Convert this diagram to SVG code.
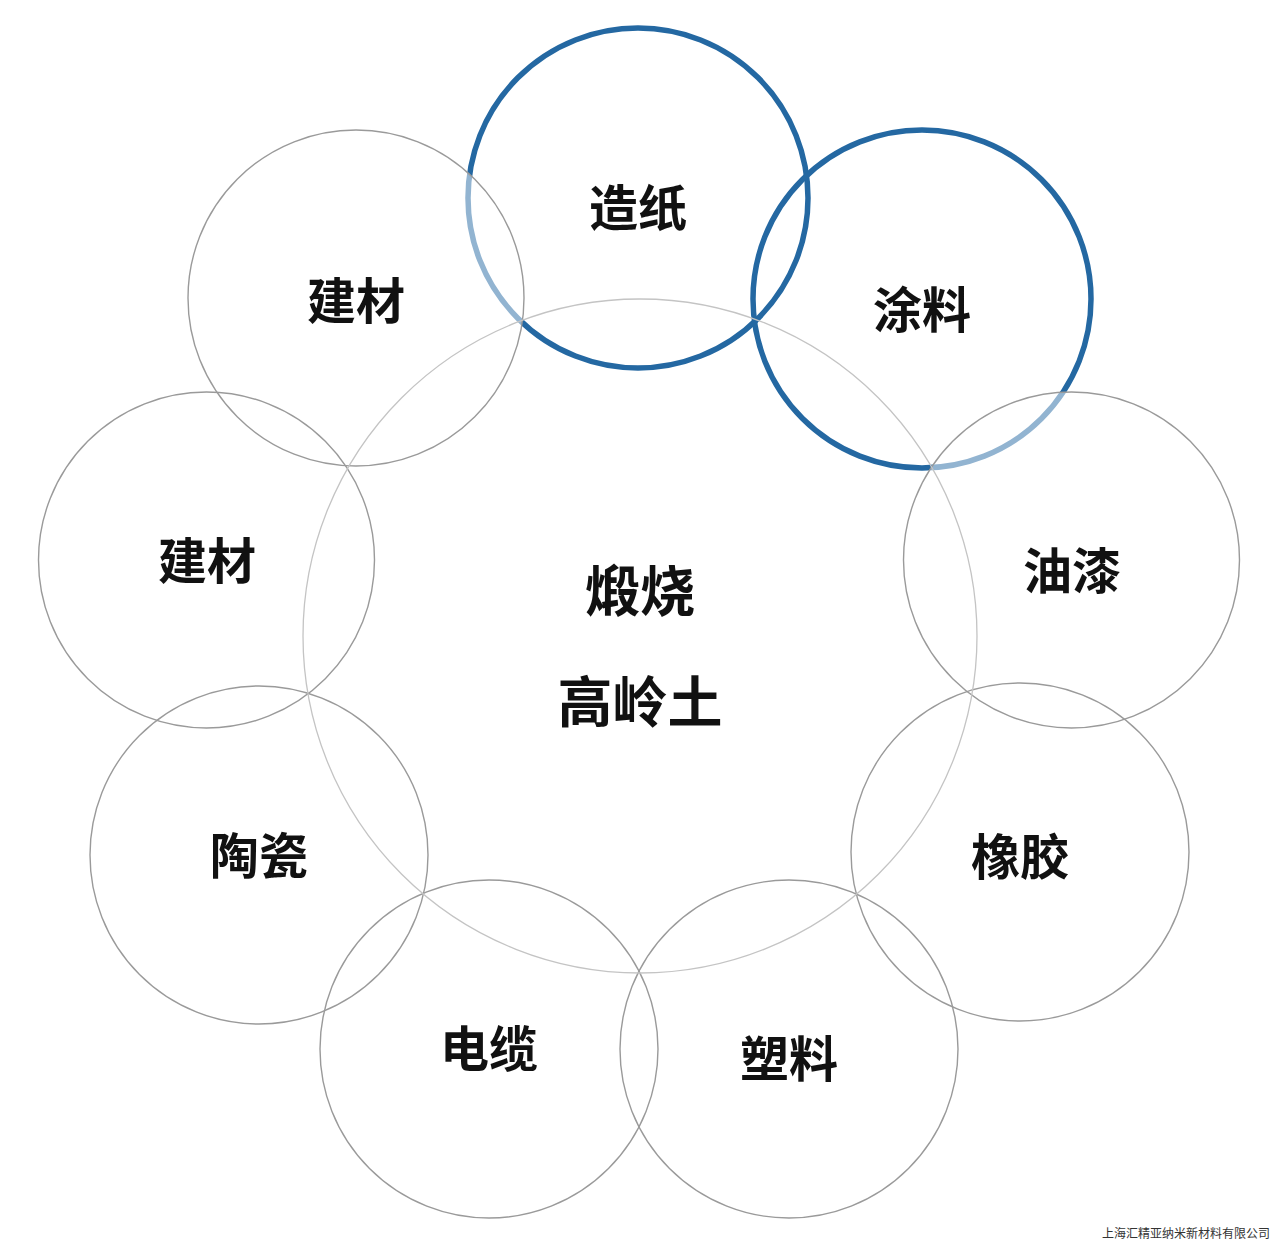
<svg xmlns="http://www.w3.org/2000/svg" width="1280" height="1246" viewBox="0 0 1280 1246">
<style>
.g{fill:none;stroke:#9a9a9a;stroke-width:1.4}
.f{fill:#ffffff;fill-opacity:0.5}
.c{fill:none;stroke:#c4c4c4;stroke-width:1.3}
.b{fill:none;stroke:#2468a2;stroke-width:5.5}
.t{font-family:"Noto Sans CJK SC","Noto Sans CJK JP",sans-serif;font-weight:700;fill:#111;text-anchor:middle;dominant-baseline:central}
.s{font-size:49px}
.m{font-size:55px}
</style>
<rect width="1280" height="1246" fill="#ffffff"/>
<g id="zaozhi"><circle class="b" cx="638" cy="198" r="170"/><text class="t s" x="638" y="204">造纸</text></g>
<g id="jiancai1"><circle class="g f" cx="356" cy="298" r="168"/><text class="t s" x="356" y="297">建材</text></g>
<g id="tuliao"><circle class="b f" cx="922" cy="299" r="169"/><text class="t s" x="922" y="306">涂料</text></g>
<g id="youqi"><circle class="g f" cx="1071.5" cy="560" r="168"/><text class="t s" x="1072" y="567">油漆</text></g>
<g id="jiancai2"><circle class="g" cx="206.5" cy="560" r="168"/><text class="t s" x="207" y="557">建材</text></g>
<g id="xiangjiao"><circle class="g" cx="1020" cy="852" r="169"/><text class="t s" x="1020" y="853">橡胶</text></g>
<g id="taoci"><circle class="g" cx="259" cy="855" r="169"/><text class="t s" x="259" y="852">陶瓷</text></g>
<g id="dianlan"><circle class="g" cx="489" cy="1049" r="169"/><text class="t s" x="489" y="1045">电缆</text></g>
<g id="suliao"><circle class="g" cx="789" cy="1049" r="169"/><text class="t s" x="789" y="1055">塑料</text></g>
<g id="center"><circle class="c" cx="640" cy="636" r="337"/><text class="t m" x="640" y="587">煅烧</text><text class="t m" x="640" y="698">高岭土</text></g>
<g id="connectors"></g>
<text x="1270" y="1232" font-family="Noto Sans CJK SC,sans-serif" font-size="12" fill="#333" text-anchor="end" dominant-baseline="central">上海汇精亚纳米新材料有限公司</text>
</svg>
